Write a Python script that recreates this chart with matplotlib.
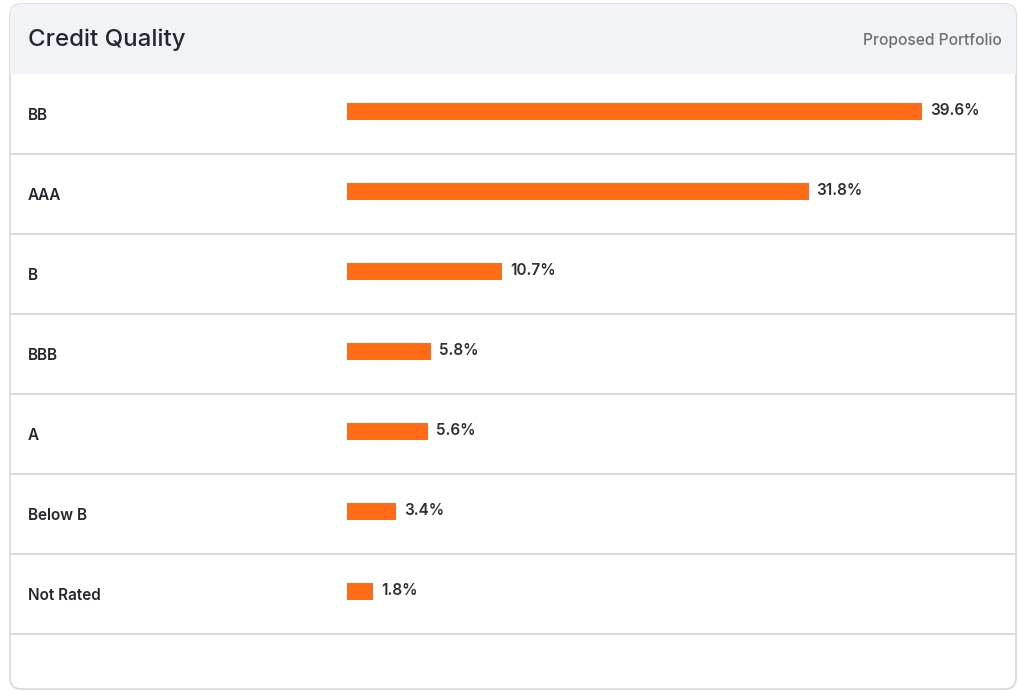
import matplotlib.pyplot as plt
import matplotlib.transforms as mtransforms
from matplotlib.patches import FancyBboxPatch, Rectangle

categories = ["BB", "AAA", "B", "BBB", "A", "Below B", "Not Rated"]
values = [39.6, 31.8, 10.7, 5.8, 5.6, 3.4, 1.8]
title = "Credit Quality"
series_name = "Proposed Portfolio"

W, H = 1018, 691
plt.rcParams["font.family"] = ["Inter", "DejaVu Sans"]

fig = plt.figure(figsize=(W / 100, H / 100), dpi=100)
fig.patch.set_facecolor("white")

# card + header in pixel space
deco = fig.add_axes([0, 0, 1, 1])
deco.set_xlim(0, W)
deco.set_ylim(H, 0)
deco.axis("off")

card = FancyBboxPatch((10, 4), 1006, 685, boxstyle="round,pad=0,rounding_size=11",
                      facecolor="white", edgecolor="#d6d8dc", linewidth=1.2, zorder=1)
deco.add_patch(card)
header = Rectangle((10, 4), 1006, 70, facecolor="#f2f3f6", edgecolor="none", zorder=2)
deco.add_patch(header)
header.set_clip_path(card)
deco.text(28, 40, title, fontsize=17.3, fontweight="medium", color="#23272e",
          va="center", ha="left", zorder=3)
deco.text(1002, 40, series_name, fontsize=11.2, fontweight="medium", color="#6b6e75",
          va="center", ha="right", zorder=3)

row_top, row_h = 74, 80
for i in range(len(categories)):
    y = row_top + row_h * (i + 1)
    deco.plot([11, 1016], [y, y], color="#d9d9d9", linewidth=1.4, zorder=3)

# data axes: x from 347px to 922px, rows from 74px to 634px
ax = fig.add_axes([347 / W, 1 - (row_top + row_h * len(categories)) / H,
                   575 / W, row_h * len(categories) / H])
ax.patch.set_alpha(0)
ax.set_xlim(0, max(values))
ax.set_ylim(len(categories) - 0.5, -0.5)
ax.axis("off")

ypos = [i - 0.03 for i in range(len(categories))]
ax.barh(ypos, values, height=0.21, color="#ff6b17", zorder=4)

for y, v in zip(ypos, values):
    ax.annotate(f"{v}%", (v, y), xytext=(5.5, 1), textcoords="offset points",
                va="center", ha="left", fontsize=11, fontweight="semibold",
                color="#2b2f36", annotation_clip=False)

trans = mtransforms.blended_transform_factory(fig.transFigure, ax.transData)
for i, c in enumerate(categories):
    ax.text(28 / W, i + 0.02, c, transform=trans, fontsize=11, fontweight="semibold",
            color="#23272e", va="center", ha="left")

fig.savefig("out.png", dpi=100)
